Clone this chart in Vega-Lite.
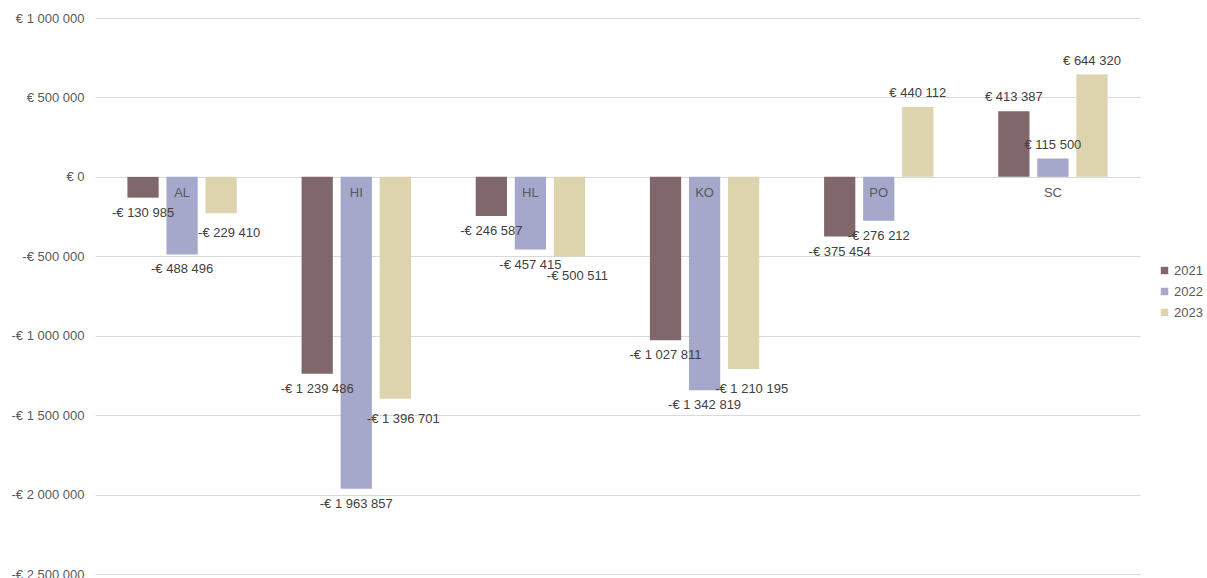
{
  "$schema": "https://vega.github.io/schema/vega-lite/v6.json",
  "autosize": "none",
  "padding": {"left": 95, "top": 18, "right": 67, "bottom": 4},
  "width": 1045,
  "height": 556,
  "config": {
    "locale": {"number": {"decimal": ",", "thousands": " ", "grouping": [3], "currency": ["€ ", ""], "minus": "-"}},
    "font": "Liberation Sans",
    "view": {"stroke": null}
  },
  "data": {"values": [
    {"cat": "AL", "year": "2021", "value": -130985},
    {"cat": "AL", "year": "2022", "value": -488496},
    {"cat": "AL", "year": "2023", "value": -229410},
    {"cat": "HI", "year": "2021", "value": -1239486},
    {"cat": "HI", "year": "2022", "value": -1963857},
    {"cat": "HI", "year": "2023", "value": -1396701},
    {"cat": "HL", "year": "2021", "value": -246587},
    {"cat": "HL", "year": "2022", "value": -457415},
    {"cat": "HL", "year": "2023", "value": -500511},
    {"cat": "KO", "year": "2021", "value": -1027811},
    {"cat": "KO", "year": "2022", "value": -1342819},
    {"cat": "KO", "year": "2023", "value": -1210195},
    {"cat": "PO", "year": "2021", "value": -375454},
    {"cat": "PO", "year": "2022", "value": -276212},
    {"cat": "PO", "year": "2023", "value": 440112},
    {"cat": "SC", "year": "2021", "value": 413387},
    {"cat": "SC", "year": "2022", "value": 115500},
    {"cat": "SC", "year": "2023", "value": 644320}
  ]},
  "encoding": {
    "x": {"field": "cat", "type": "nominal", "axis": null, "sort": null, "scale": {"paddingInner": 0, "paddingOuter": 0}},
    "y": {"field": "value", "type": "quantitative",
      "scale": {"domain": [-2500000, 1000000], "nice": false},
      "axis": {"title": null, "values": [-2500000, -2000000, -1500000, -1000000, -500000, 0, 500000, 1000000], "format": "$,.0f", "domain": false, "ticks": false, "labelColor": "#595959", "labelFontSize": 13, "labelPadding": 11, "gridColor": "#d9d9d9", "gridWidth": 1}}
  },
  "layer": [
    {
      "mark": {"type": "bar"},
      "encoding": {
        "xOffset": {"field": "year", "type": "nominal", "scale": {"paddingInner": 0.2, "paddingOuter": 0.83}},
        "color": {"field": "year", "type": "nominal",
          "scale": {"domain": ["2021", "2022", "2023"], "range": ["#80676c", "#a5a8cb", "#ddd4ae"]},
          "legend": {"title": null, "orient": "none", "legendX": 1063, "legendY": 246, "symbolType": "square", "symbolSize": 55, "labelFontSize": 13, "labelColor": "#595959", "rowPadding": 7, "labelOffset": 3, "symbolStrokeWidth": 0}}
      }
    },
    {
      "transform": [{"filter": "datum.value < 0 && datum.year != '2023'"}],
      "mark": {"type": "text", "dy": 15, "baseline": "middle", "fontSize": 13, "color": "#404040"},
      "encoding": {
        "xOffset": {"field": "year", "type": "nominal", "scale": {"paddingInner": 0.2, "paddingOuter": 0.83}},
        "text": {"field": "value", "type": "quantitative", "format": "$,.0f"}
      }
    },
    {
      "transform": [{"filter": "datum.value < 0 && datum.year == '2023'"}],
      "mark": {"type": "text", "dy": 20, "dx": 8, "baseline": "middle", "fontSize": 13, "color": "#404040"},
      "encoding": {
        "xOffset": {"field": "year", "type": "nominal", "scale": {"paddingInner": 0.2, "paddingOuter": 0.83}},
        "text": {"field": "value", "type": "quantitative", "format": "$,.0f"}
      }
    },
    {
      "transform": [{"filter": "datum.value >= 0"}],
      "mark": {"type": "text", "dy": -14, "baseline": "middle", "fontSize": 13, "color": "#404040"},
      "encoding": {
        "xOffset": {"field": "year", "type": "nominal", "scale": {"paddingInner": 0.2, "paddingOuter": 0.83}},
        "text": {"field": "value", "type": "quantitative", "format": "$,.0f"}
      }
    },
    {
      "transform": [{"filter": "datum.year == '2022'"}],
      "mark": {"type": "text", "dy": 16, "baseline": "middle", "fontSize": 13, "color": "#595959"},
      "encoding": {
        "y": {"datum": 0},
        "text": {"field": "cat", "type": "nominal"}
      }
    }
  ]
}
